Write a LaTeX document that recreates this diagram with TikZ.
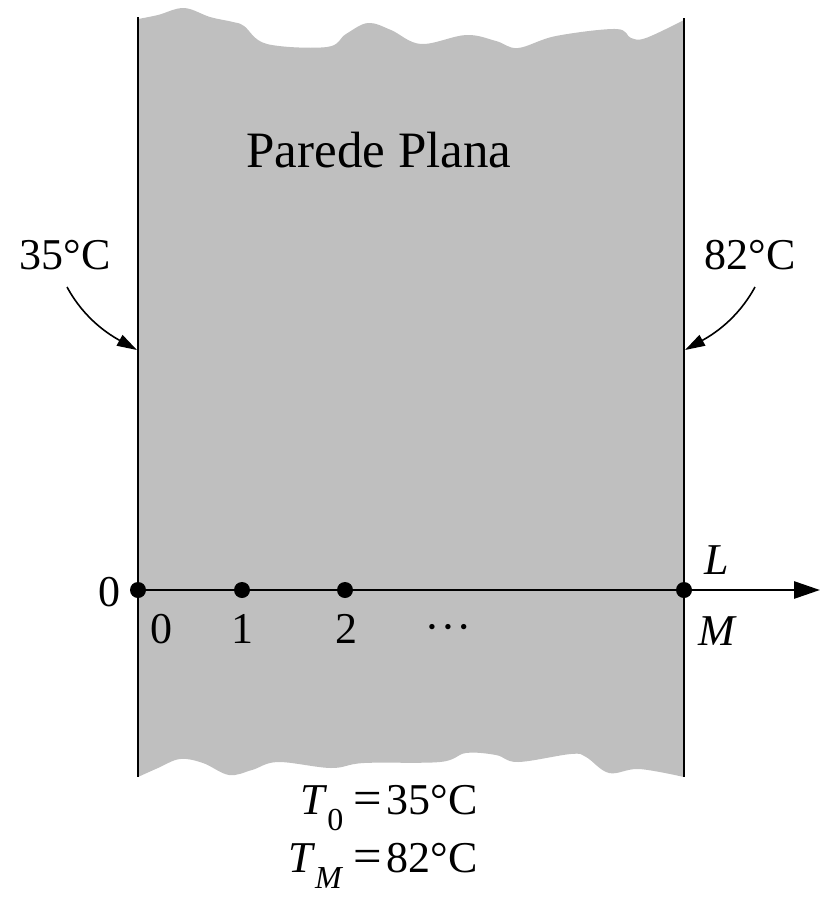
\documentclass[tikz,border=0pt]{standalone}
\usepackage{fontspec}
\setmainfont{Liberation Serif}
\usetikzlibrary{arrows.meta}
\definecolor{wallgray}{RGB}{191,191,191}
\tikzset{
  lbl/.style={inner sep=0pt, font=\fontsize{44}{48}\selectfont},
  title/.style={inner sep=0pt, font=\fontsize{51}{55}\selectfont},
  dotnode/.style={circle, fill=black, inner sep=0pt, minimum size=16pt},
  wall/.style={line width=2.8pt},
  axisline/.style={line width=2.8pt, -{Triangle[length=26pt,width=17pt]}},
  callout/.style={line width=1.6pt, -{Triangle[length=20pt,width=12pt]}}
}
\newcommand{\sub}[1]{\raisebox{-0.38em}{\fontsize{32}{32}\selectfont #1}}
\newcommand{\smalldot}{\scalebox{0.55}{$\bullet$}}
\newcommand{\eqsign}{\scalebox{1.15}[1.1]{=}}
\begin{document}
\begin{tikzpicture}[x=1pt,y=-1pt]
\useasboundingbox (0,0) rectangle (821,906);
% wall body
\fill[wallgray] plot[smooth, tension=0.6] coordinates {(138,19) (158,15) (184,8) (210,17) (233,22) (244,26) (267,44) (327,47) (346,34) (368,23) (391,30) (421,44) (466,35) (496,41) (518,48) (556,36) (616,29) (631,38) (646,38) (684,20)}
  -- (684,777)
  -- plot[smooth, tension=0.6] coordinates {(684,777) (639,769) (609,773) (586,757) (571,754) (518,762) (496,755) (466,753) (440,762) (364,763) (331,768) (278,762) (252,770) (229,775) (203,763) (180,759) (158,768) (138,777)}
  -- cycle;
\coordinate (lt) at (138,17);
\coordinate (lb) at (138,777);
\coordinate (rt) at (684,18);
\coordinate (rb) at (684,777);
\draw[wall] (lt) -- (lb);
\draw[wall] (rt) -- (rb);
% title
\node[title] (title) at (379,150) {Parede Plana};
% temperatures
\node[lbl] (tl) at (65,255) {35°C};
\node[lbl] (tr) at (750,255) {82°C};
\coordinate (lw) at (137,350);
\coordinate (rw) at (685,350);
\draw[callout] (67,287) .. controls (85,320) and (110,335) .. (lw);
\draw[callout] (755,287) .. controls (737,320) and (712,335) .. (rw);
% axis
\node[dotnode] (d0) at (138,590) {};
\node[dotnode] (d1) at (242,590) {};
\node[dotnode] (d2) at (345,590) {};
\node[dotnode] (dM) at (684,590) {};
\coordinate (axend) at (820,590);
\draw[axisline] (d0.center) -- (axend);
\node[lbl] (z) at (109,592) {0};
\node[lbl] (n0) at (161,629) {0};
\node[lbl] (n1) at (242,629) {1};
\node[lbl] (n2) at (346,629) {2};
\node[lbl] (ndots) at (448,627) {\smalldot\hspace{9pt}\smalldot\hspace{9pt}\smalldot};
\node[lbl] (L) at (717,560) {\textit{L}};
\node[lbl] (M) at (718,631) {\textit{M}};
% bottom equations
\node[lbl, anchor=base east] (eq0) at (478,814) {\textit{T}\sub{0}\hspace{10pt}\eqsign\hspace{5pt}35°C};
\node[lbl, anchor=base east] (eqM) at (478,872) {\textit{T}\sub{\textit{M}}\hspace{10pt}\eqsign\hspace{5pt}82°C};
\end{tikzpicture}
\end{document}
